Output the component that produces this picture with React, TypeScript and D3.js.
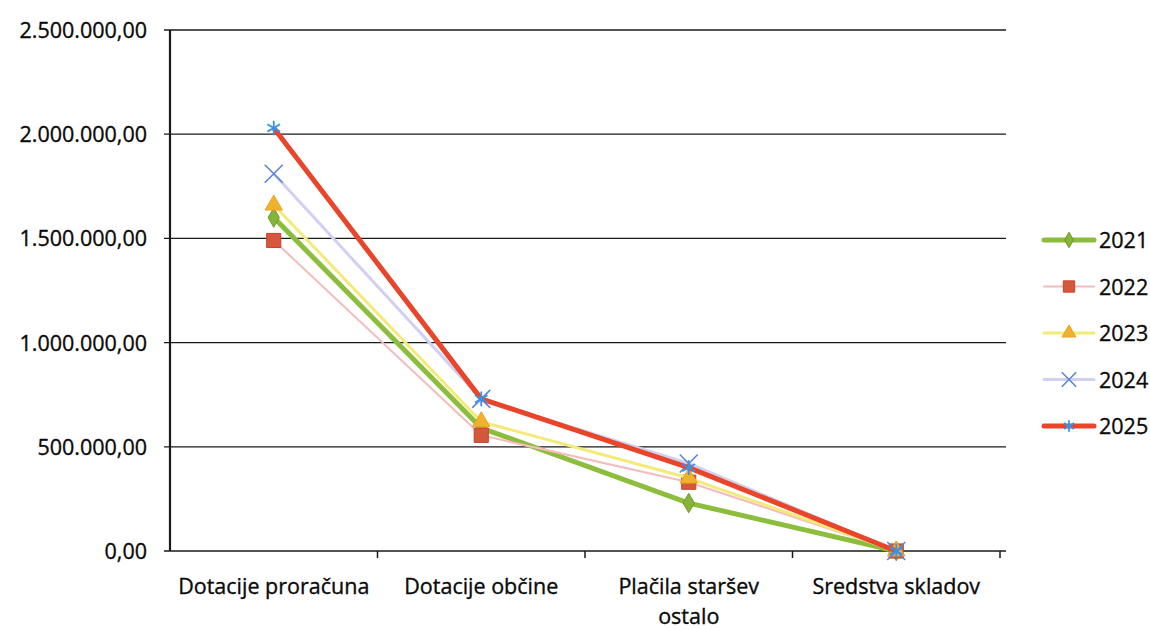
import { useEffect, useRef } from 'react';
import * as d3 from 'd3';

const categories = ['Dotacije proračuna', 'Dotacije občine', 'Plačila staršev ostalo', 'Sredstva skladov'];
const years = ['2021', '2022', '2023', '2024', '2025'];
const values2021 = [1600000, 590000, 230000, 0];
const values2022 = [1490000, 555000, 330000, 0];
const values2023 = [1660000, 620000, 350000, 0];
const values2024 = [1810000, 730000, 420000, 0];
const values2025 = [2030000, 730000, 400000, 0];
const yTicks = [0, 500000, 1000000, 1500000, 2000000, 2500000];

const seriesValues = [values2021, values2022, values2023, values2024, values2025];

const styles = [
  { line: '#8cbd3c', width: 5, marker: d3.symbolDiamond, size: 110, fill: '#86b43a', stroke: '#6f9a2a' },
  { line: '#f4bcbc', width: 2, marker: d3.symbolSquare, size: 200, fill: '#d4583c', stroke: '#c9402e' },
  { line: '#f3ea78', width: 3, marker: d3.symbolTriangle, size: 130, fill: '#f0b22c', stroke: '#eaa224' },
  { line: '#d2d0f2', width: 3, marker: d3.symbolCross, size: 0, fill: 'none', stroke: '#5a86d6' },
  { line: '#e8452a', width: 5, marker: d3.symbolAsterisk, size: 150, fill: 'none', stroke: '#3b92e4' },
];

const fmt = (v: number) =>
  d3.format(',.2f')(v).replace(/,/g, '#').replace('.', ',').replace(/#/g, '.');

export default function App() {
  const svgRef = useRef<SVGSVGElement>(null);

  useEffect(() => {
    document.body.style.margin = '0';
    if (!svgRef.current) return;
    const svg = d3.select(svgRef.current);
    svg.selectAll('*').remove();

    const left = 170;
    const right = 1000;
    const top = 30;
    const bottom = 551;
    const font = "'Open Sans', 'Noto Sans', sans-serif";
    const textColor = '#0a0a0a';

    const x = d3.scaleBand<string>().domain(categories).range([left, right]);
    const y = d3.scaleLinear().domain([0, 2500000]).range([bottom, top]);

    // Grid
    svg
      .append('g')
      .selectAll('line')
      .data(yTicks)
      .enter()
      .append('line')
      .attr('x1', left - 6)
      .attr('x2', right + 6)
      .attr('y1', (d) => y(d))
      .attr('y2', (d) => y(d))
      .attr('stroke', '#1a1a1a')
      .attr('stroke-width', 1.3);

    // y axis line
    svg
      .append('line')
      .attr('x1', left)
      .attr('x2', left)
      .attr('y1', top)
      .attr('y2', bottom)
      .attr('stroke', '#1a1a1a')
      .attr('stroke-width', 2.2);

    // x tick marks
    const bounds = categories.map((c) => (x(c) as number) + x.bandwidth());
    svg
      .append('g')
      .selectAll('line')
      .data(bounds)
      .enter()
      .append('line')
      .attr('x1', (d) => d)
      .attr('x2', (d) => d)
      .attr('y1', bottom)
      .attr('y2', bottom + 7)
      .attr('stroke', '#1a1a1a')
      .attr('stroke-width', 1.5);

    // y labels
    svg
      .append('g')
      .selectAll('text')
      .data(yTicks)
      .enter()
      .append('text')
      .attr('x', 147)
      .attr('y', (d) => y(d) + 8)
      .attr('text-anchor', 'end')
      .attr('font-family', font)
      .attr('font-size', 21.5)
      .attr('fill', textColor)
      .attr('stroke', textColor)
      .attr('stroke-width', 0.35)
      .text((d) => fmt(d));

    // x labels
    const xl = svg.append('g');
    categories.forEach((c) => {
      const cx = (x(c) as number) + x.bandwidth() / 2;
      const lines = c === 'Plačila staršev ostalo' ? ['Plačila staršev', 'ostalo'] : [c];
      lines.forEach((ln, i) => {
        xl.append('text')
          .attr('x', cx)
          .attr('y', 594 + i * 30)
          .attr('text-anchor', 'middle')
          .attr('font-family', font)
          .attr('font-size', 21.5)
          .attr('fill', textColor)
          .attr('stroke', textColor)
          .attr('stroke-width', 0.35)
          .text(ln);
      });
    });

    const line = d3
      .line<number>()
      .x((_, i) => (x(categories[i]) as number) + x.bandwidth() / 2)
      .y((d) => y(d));

    const drawMarker = (
      g: d3.Selection<SVGGElement, unknown, null, undefined>,
      s: (typeof styles)[number],
      px: number,
      py: number,
      k = 1
    ) => {
      if (s.marker === d3.symbolCross) {
        const r = 9 * k;
        g.append('path')
          .attr('d', `M${px - r},${py - r}L${px + r},${py + r}M${px - r},${py + r}L${px + r},${py - r}`)
          .attr('stroke', s.stroke)
          .attr('stroke-width', 1.6)
          .attr('fill', 'none');
        return;
      }
      g.append('path')
        .attr('d', d3.symbol().type(s.marker).size(s.size * k * k)() || '')
        .attr('transform', `translate(${px},${py})`)
        .attr('fill', s.fill)
        .attr('stroke', s.stroke)
        .attr('stroke-width', s.marker === d3.symbolAsterisk ? 1.8 : 1);
    };

    seriesValues.forEach((vals, si) => {
      const s = styles[si];
      const g = svg.append('g');
      g.append('path')
        .attr('d', line(vals) || '')
        .attr('fill', 'none')
        .attr('stroke', s.line)
        .attr('stroke-width', s.width)
        .attr('stroke-linejoin', 'round');
      vals.forEach((v, i) => {
        drawMarker(g, s, (x(categories[i]) as number) + x.bandwidth() / 2, y(v));
      });
    });

    // Legend
    const legend = svg.append('g');
    years.forEach((yr, i) => {
      const s = styles[i];
      const ly = 240 + i * 46.5;
      const item = legend.append('g');
      item
        .append('line')
        .attr('x1', 1044)
        .attr('x2', 1094)
        .attr('y1', ly)
        .attr('y2', ly)
        .attr('stroke', s.line)
        .attr('stroke-width', s.width)
        .attr('stroke-linecap', 'round');
      drawMarker(item, s, 1069, ly, 0.8);
      item
        .append('text')
        .attr('x', 1099)
        .attr('y', ly + 8)
        .attr('font-family', font)
        .attr('font-size', 21.5)
        .attr('fill', textColor)
        .attr('stroke', textColor)
        .attr('stroke-width', 0.35)
        .text(yr);
    });
  }, []);

  return <svg ref={svgRef} width={1150} height={630} style={{ display: 'block', background: '#fff' }} />;
}
